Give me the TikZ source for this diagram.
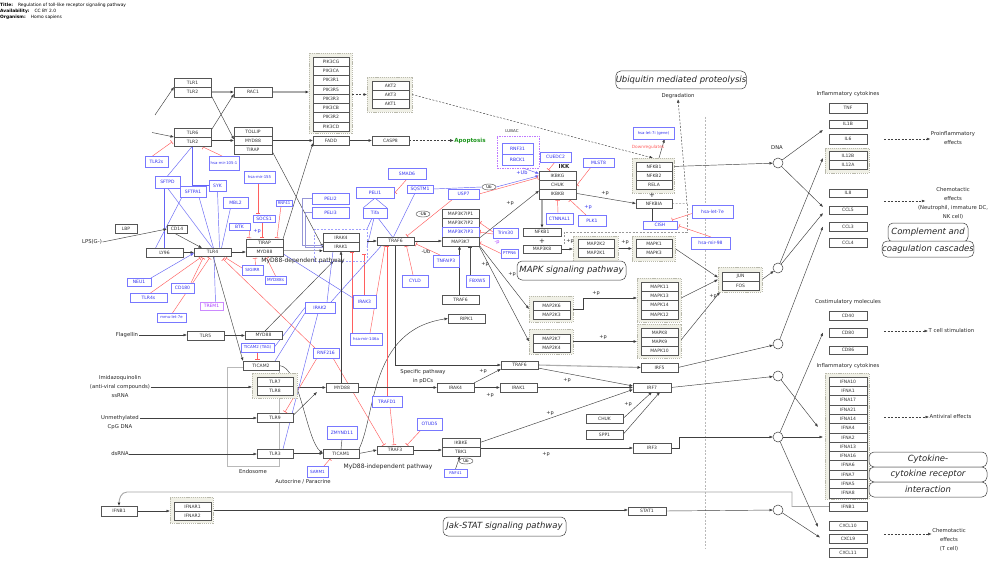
\documentclass[tikz,border=0pt]{standalone}
\usepackage{fontspec}
\setmainfont{DejaVu Sans}
\usetikzlibrary{arrows.meta,calc,shapes.geometric}
\pgfdeclarelayer{back}
\pgfdeclarelayer{lines}
\pgfsetlayers{back,lines,main}

\definecolor{gbord}{RGB}{85,85,85}
\definecolor{bbord}{RGB}{120,120,255}
\definecolor{btext}{RGB}{50,50,240}
\definecolor{bline}{RGB}{100,100,245}
\definecolor{gline}{RGB}{150,150,215}
\definecolor{inhc}{RGB}{255,95,95}
\definecolor{grpfill}{RGB}{240,240,230}
\definecolor{grpbord}{RGB}{185,185,172}
\definecolor{apo}{RGB}{30,150,30}
\definecolor{lubacc}{RGB}{190,120,255}
\definecolor{purp}{RGB}{170,60,255}

\newcommand\fsz[1]{\fontsize{#1}{#1}\selectfont}
% box from corner (x1,y1) to (x2,y2): style, name, x1, y1, x2, y2, text
\newcommand\mkbox[7]{\node[#1,minimum width={(#5)-(#3)},minimum height={((#6)-(#4))}] (#2) at ({((#3)+(#5))/2},{((#4)+(#6))/2}) {#7};}
% stacked rows: style, prefix, x1, y0, x2, row height, labels
\newcommand\mkrows[7]{\foreach \lab [count=\i] in {#7}{\mkbox{#1}{#2\i}{#3}{(#4)+(\i-1)*(#6)}{#5}{(#4)+\i*(#6)}{\lab}}}

\tikzset{
 gene/.style={draw=gbord,line width=0.45pt,fill=white,inner sep=0pt,outer sep=0pt,font=\fsz{4.5},text=black!80},
 bgene/.style={gene,draw=bbord,text=btext},
 grp/.style={draw=grpbord,line width=0.4pt,dash pattern=on 1.2pt off 0.9pt,fill=grpfill,inner sep=0pt,outer sep=0pt},
 irakg/.style={draw=bbord!70,line width=0.45pt,dash pattern=on 2pt off 1.5pt,inner sep=0pt,outer sep=0pt},
 lubacg/.style={draw=lubacc,line width=0.6pt,dash pattern=on 1.5pt off 1pt,inner sep=0pt,outer sep=0pt},
 endo/.style={draw=gray!55,line width=0.5pt,inner sep=0pt,outer sep=0pt},
 pwy/.style={draw=black!75,line width=0.5pt,rounded corners=5pt,fill=white,inner sep=0pt,outer sep=0pt,font=\fsz{8.5}\itshape,text=black!85},
 lbl/.style={inner sep=0.5pt,font=\fsz{5.3},text=black!85},
 lbl2/.style={inner sep=0.5pt,align=center,font=\fontsize{5.3}{9}\selectfont,text=black!85},
 plab/.style={inner sep=0pt,font=\fsz{5},text=black!85},
 act/.style={draw=black!75,line width=0.45pt,-{Latex[length=3.5pt,width=2.8pt]}},
 gact/.style={draw=gray!65,line width=1.1pt,-{Latex[length=3.5pt,width=3pt,color=black!80]}},
 fbk/.style={draw=gray!70,line width=0.9pt,-{Latex[length=3.5pt,width=3pt,color=black!80]}},
 dact/.style={act,dash pattern=on 2pt off 1.5pt},
 dsh/.style={draw=gray!80,line width=0.45pt,dash pattern=on 2pt off 1.5pt},
 inh/.style={draw=inhc,line width=0.45pt,-{Bar[width=4.5pt,line width=0.6pt]}},
 inhk/.style={draw=black!70,line width=0.6pt,-{Bar[width=4.5pt,line width=0.6pt]}},
 kline/.style={draw=black!75,line width=0.45pt},
 blu/.style={draw=bline,line width=0.45pt},
 bact/.style={blu,-{Latex[length=3.5pt,width=2.8pt]}},
 gblu/.style={draw=gline,line width=0.5pt},
 dna/.style={circle,draw=black!75,line width=0.5pt,fill=white,minimum size=10pt,inner sep=0pt,outer sep=0pt},
 ubo/.style={ellipse,draw=black!75,line width=0.4pt,fill=white,inner sep=0.3pt,minimum width=14pt,minimum height=6pt,font=\fsz{4}},
}

\begin{document}
\begin{tikzpicture}[x=1pt,y=-1pt]
\useasboundingbox (0,0) rectangle (1000,564);

% ---------- background: page, endosome and nuclear boundary ----------
\begin{pgfonlayer}{back}
\fill[white] (0,0) rectangle (1000,564);
\mkbox{endo}{endo}{227}{367}{279}{466}{}
\draw[dsh,draw=gray!55] (705,117) -- (705,548);
\end{pgfonlayer}

% ---------- header ----------
\node[anchor=west,inner sep=0pt,font=\fsz{4.4}] (hd1) at (0,5) {\textbf{Title:}\hspace{5pt}Regulation of toll-like receptor signaling pathway};
\node[anchor=west,inner sep=0pt,font=\fsz{4.4}] (hd2) at (0,11) {\textbf{Availability:}\hspace{5pt}CC BY 2.0};
\node[anchor=west,inner sep=0pt,font=\fsz{4.4}] (hd3) at (0,17) {\textbf{Organism:}\hspace{5pt}Homo sapiens};

% ---------- complexes (outer frames) ----------
\mkbox{grp}{pik3grp}{309}{53}{352}{133}{}
\mkbox{grp}{aktgrp}{367}{77}{412}{112}{}
\mkbox{grp}{nfkbgrp}{632}{158}{674}{193}{}
\mkbox{grp}{map2kgrp}{573}{236}{618}{261}{}
\mkbox{grp}{mapk1grp}{632}{236}{675}{261}{}
\mkbox{grp}{junfosgrp}{718}{267}{762}{292}{}
\mkbox{grp}{map2k6grp}{529}{296}{573}{322}{}
\mkbox{grp}{mapk11grp}{637}{278}{681}{322}{}
\mkbox{grp}{map2k7grp}{529}{329}{573}{354}{}
\mkbox{grp}{mapk8grp}{637}{324}{681}{358}{}
\mkbox{grp}{tlr78grp}{252}{373}{297}{398}{}
\mkbox{grp}{ifnargrp}{170}{497}{213}{523}{}
\mkbox{grp}{il12grp}{825}{148}{869}{173}{}
\mkbox{grp}{ifnagrp}{825}{373}{869}{499}{}
\mkbox{irakg}{irakgrp}{314}{229}{367}{261}{}
\mkbox{lubacg}{lubac}{497}{136}{539}{168}{}

% ---------- receptors, top left ----------
\mkbox{gene}{tlrA1}{174}{78}{211}{87}{TLR1}
\mkbox{gene}{tlrA2}{174}{87}{211}{97}{TLR2}
\mkbox{gene}{tlrB6}{174}{128}{211}{137}{TLR6}
\mkbox{gene}{tlrB2}{174}{137}{211}{146}{TLR2}
\mkbox{gene}{rac1}{234}{87}{272}{97}{RAC1}
\mkbox{gene}{tollip}{234}{127}{272}{136}{TOLLIP}
\mkbox{gene}{myd88a}{234}{136}{272}{145}{MYD88}
\mkbox{gene}{tirapa}{234}{145}{272}{154}{TIRAP}
\mkrows{gene}{pik}{313}{57}{349}{9.25}{PIK3CG,PIK3CA,PIK3R1,PIK3R5,PIK3R3,PIK3CB,PIK3R2,PIK3CD}
\mkrows{gene}{akt}{372}{81}{409}{9}{AKT2,AKT3,AKT1}
\mkbox{gene}{fadd}{313}{136}{349}{145}{FADD}
\mkbox{gene}{casp8}{372}{136}{409}{145}{CASP8}
\node[font=\fsz{5.6}\bfseries,text=apo,inner sep=0.5pt] (apop) at (470,140.5) {Apoptosis};

\mkbox{bgene}{tlr2s}{145}{156}{168}{167}{TLR2s}
\mkbox{bgene,font=\fsz{3.8}}{mir105}{209}{156}{239}{170}{hsa-mir-105-1}
\mkbox{bgene}{sftpd}{155}{176}{180}{188}{SFTPD}
\mkbox{bgene}{sftpa1}{180}{186}{206}{197}{SFTPA1}
\mkbox{bgene}{syk}{209}{180}{226}{191}{SYK}
\mkbox{bgene,font=\fsz{3.9}}{mir155}{244}{171}{275}{183}{hsa-mir-155}
\mkbox{bgene}{mbl2}{223}{197}{248}{208}{MBL2}
\mkbox{bgene}{btk}{229}{223}{250}{230}{BTK}
\mkbox{bgene}{socs1}{253}{215}{275}{222}{SOCS1}
\mkbox{bgene,font=\fsz{3.8}}{rnf41a}{276}{200}{292}{206}{RNF41}
\mkbox{gene}{lbp}{115}{224}{137}{233}{LBP}
\mkbox{gene}{cd14}{167}{225}{187}{233}{CD14}
\mkbox{gene}{ly96}{146}{248}{183}{257}{LY96}
\mkbox{gene}{tlr4}{194}{248}{231}{256}{TLR4}
\mkbox{gene}{tirapb}{246}{239}{283}{247.5}{TIRAP}
\mkbox{gene}{myd88b}{246}{247.5}{283}{256}{MYD88}
\mkbox{bgene}{neu1}{127}{278}{151}{286}{NEU1}
\mkbox{bgene}{cd180}{171}{283}{194}{293}{CD180}
\mkbox{bgene}{tlr4s}{130}{293}{167}{302}{TLR4s}
\mkbox{bgene,draw=purp!60,text=purp}{trem1}{200}{302}{223}{310}{TREM1}
\mkbox{bgene,font=\fsz{3.8}}{mmulet}{157}{313}{186}{322}{mmu-let-7e}
\mkbox{bgene,font=\fsz{4.2}}{sigirr}{242}{265}{263}{275}{SIGIRR}
\mkbox{bgene,font=\fsz{4.2}}{myd88s}{265}{276}{286}{284}{MYD88s}
\mkbox{gene}{tlr5}{187}{331}{224}{340}{TLR5}
\mkbox{gene}{myd88c}{245}{331}{282}{339}{MYD88}
\mkbox{bgene,font=\fsz{4}}{ticam2tag}{241}{343}{274}{352}{TICAM2 (TAG)}
\mkbox{gene}{ticam2}{243}{361}{279}{370}{TICAM2}

\node[lbl] (lps) at (92,242) {LPS(G-)};
\node[lbl] (flag) at (127,335) {Flagellin};
\node[lbl2] (imid) at (120,387) {Imidazoquinolin\\(anti-viral compounds)\\ssRNA};
\node[lbl2] (unm) at (120,422.5) {Unmethylated\\CpG DNA};
\node[lbl] (dsrna) at (120,454) {dsRNA};
\node[lbl] (endot) at (253,472) {Endosome};
\node[lbl] (autop) at (303,482) {Autocrine / Paracrine};
\node[lbl,font=\fsz{6}] (mdp) at (303,261) {MyD88-dependent pathway};
\node[lbl,font=\fsz{6}] (mip) at (388,467) {MyD88-independent pathway};
\node[lbl2] (spp) at (423,376.5) {Specific pathway\\in pDCs};

% ---------- IRAK / TRAF6 module ----------
\mkbox{bgene}{peli2}{312}{193}{349}{204}{PELI2}
\mkbox{bgene}{peli3}{312}{207}{349}{218}{PELI3}
\mkbox{bgene}{peli1}{356}{187}{394}{198}{PELI1}
\mkbox{bgene}{tifa}{363}{208}{387}{218}{Tifa}
\mkbox{bgene}{smad6}{388}{168}{426}{179}{SMAD6}
\mkbox{bgene}{sqstm1}{407}{185}{433}{193}{SQSTM1}
\mkbox{bgene}{usp7}{448}{189}{479}{199}{USP7}
\mkbox{gene}{irak4}{323}{233}{359}{242}{IRAK4}
\mkbox{gene}{irak1}{323}{242}{359}{251}{IRAK1}
\mkbox{gene}{traf6a}{377}{237}{414}{245}{TRAF6}
\mkbox{gene}{m3a}{442}{209}{479}{218.25}{MAP3K7IP1}
\mkbox{gene}{m3b}{442}{218.25}{479}{227.5}{MAP3K7IP2}
\mkbox{bgene}{m3c}{442}{227.5}{479}{236.75}{MAP3K7IP3}
\mkbox{gene}{m3d}{442}{236.75}{479}{246}{MAP3K7}
\mkbox{bgene}{tnfaip3}{433}{255}{459}{267}{TNFAIP3}
\mkbox{bgene}{cyld}{402}{275}{428}{287}{CYLD}
\mkbox{bgene}{fbxw5}{466}{275}{489}{287}{FBXW5}
\mkbox{gene}{traf6b}{442}{295}{479}{304}{TRAF6}
\mkbox{gene}{ripk1}{448}{314}{485}{323}{RIPK1}
\mkbox{bgene}{irak3}{353}{295}{376}{308}{IRAK3}
\mkbox{bgene}{irak2}{305}{302}{335}{313}{IRAK2}
\mkbox{bgene,font=\fsz{3.9}}{mir146a}{350}{333}{382}{345}{hsa-mir-146a}
\mkbox{bgene}{rnf216}{313}{348}{339}{358}{RNF216}
\node[ubo] (ub1) at (489,187) {Ub};
\node[ubo] (ub2) at (423,214) {-Ub};

% ---------- IKK / NF-kB module ----------
\node[inner sep=0pt,font=\fsz{4},text=black!80] (lubact) at (512,131) {LUBAC};
\mkbox{bgene}{rnf31}{502}{143}{533}{154}{RNF31}
\mkbox{bgene}{rbck1}{502}{154}{533}{165}{RBCK1}
\mkbox{bgene}{cuedc2}{540}{152}{571}{162}{CUEDC2}
\mkbox{bgene}{mlst8}{583}{158}{614}{167}{MLST8}
\node[inner sep=0pt,font=\fsz{5.5}\bfseries,text=black!85] (ikkt) at (564,166) {IKK};
\mkbox{gene}{ikbkg}{539}{171}{576}{180.33}{IKBKG}
\mkbox{gene}{chuk}{539}{180.33}{576}{189.67}{CHUK}
\mkbox{gene}{ikbkb}{539}{189.67}{576}{199}{IKBKB}
\mkbox{bgene}{trim30}{493}{228}{518}{238}{Trim30}
\mkbox{bgene,font=\fsz{4}}{ptpn6}{501}{249}{518}{258}{PTPN6}
\mkbox{bgene}{ctnnal1}{546}{213}{573}{224}{CTNNAL1}
\mkbox{bgene}{plk1}{578}{215}{606}{226}{PLK1}
\mkbox{gene}{nfkb1b}{523}{228}{561}{236}{NFKB1}
\mkbox{gene}{map3k8}{523}{245}{561}{253}{MAP3K8}
\mkbox{gene}{map2k2}{578}{239}{614}{248}{MAP2K2}
\mkbox{gene}{map2k1}{578}{248}{614}{257}{MAP2K1}
\mkbox{gene}{mapk1}{636}{239}{672}{248}{MAPK1}
\mkbox{gene}{mapk3}{636}{248}{672}{257}{MAPK3}
\mkbox{pwy}{mapkpw}{517}{261}{626}{280}{MAPK signaling pathway}
\mkbox{gene}{nfkb1}{636}{162}{672}{171}{NFKB1}
\mkbox{gene}{nfkb2}{636}{171}{672}{180}{NFKB2}
\mkbox{gene}{rela}{636}{180}{672}{189}{RELA}
\mkbox{bgene,font=\fsz{3.8}}{let7i}{633}{127}{674}{139}{hsa-let-7i (gene)}
\node[inner sep=0pt,font=\fsz{4.3},text=inhc] (downr) at (648,147) {Downregulates};
\mkbox{gene}{nfkbia}{636}{199}{672}{208}{NFKBIA}
\mkbox{bgene}{cish}{643}{221}{677}{229}{CISH}
\mkbox{bgene}{let7e}{692}{205}{733}{218}{hsa-let-7e}
\mkbox{bgene}{mir98}{691}{237}{730}{249}{hsa-mir-98}
\mkbox{pwy}{ubqpw}{616}{71}{746}{89}{Ubiquitin mediated proteolysis}
\node[lbl] (degr) at (678,96) {Degradation};

% ---------- MAPK cascades ----------
\mkbox{gene}{jun}{722}{272}{759}{281}{JUN}
\mkbox{gene}{fos}{722}{281}{759}{290}{FOS}
\mkbox{gene}{map2k6}{533}{301}{570}{310}{MAP2K6}
\mkbox{gene}{map2k3}{533}{310}{570}{319}{MAP2K3}
\mkrows{gene}{mkb}{641}{282}{678}{9.25}{MAPK11,MAPK13,MAPK14,MAPK12}
\mkbox{gene}{map2k7}{533}{334}{570}{343}{MAP2K7}
\mkbox{gene}{map2k4}{533}{343}{570}{352}{MAP2K4}
\mkrows{gene}{mkc}{641}{328}{678}{9}{MAPK8,MAPK9,MAPK10}
\mkbox{gene}{traf6c}{501}{361}{538}{369}{TRAF6}
\mkbox{gene}{irf5}{641}{363}{678}{372}{IRF5}

% ---------- endosomal TLRs and MyD88-independent branch ----------
\mkbox{gene}{tlr7}{257}{377}{293}{386}{TLR7}
\mkbox{gene}{tlr8}{257}{386}{293}{395}{TLR8}
\mkbox{gene}{tlr9}{257}{413}{293}{422}{TLR9}
\mkbox{gene}{tlr3}{257}{449}{293}{458}{TLR3}
\mkbox{gene}{myd88d}{326}{383}{358}{392}{MYD88}
\mkbox{gene}{ticam1}{323}{449}{359}{458}{TICAM1}
\mkbox{bgene}{zmynd11}{327}{426}{357}{439}{ZMYND11}
\mkbox{bgene,font=\fsz{4.2}}{sarm1}{307}{466}{328}{477}{SARM1}
\mkbox{gene}{traf3}{377}{446}{413}{454}{TRAF3}
\mkbox{bgene}{trafd1}{372}{396}{402}{407}{TRAFD1}
\mkbox{bgene}{otud5}{417}{418}{442}{430}{OTUD5}
\mkbox{gene}{ikbke}{442}{438}{480}{447}{IKBKE}
\mkbox{gene}{tbk1}{442}{447}{480}{456}{TBK1}
\node[ubo] (ub3) at (466,461) {Ub};
\mkbox{bgene,font=\fsz{3.8}}{rnf41b}{444}{469}{467}{477}{RNF41}
\mkbox{gene}{irak4b}{437}{383}{474}{392}{IRAK4}
\mkbox{gene}{irak1b}{500}{383}{537}{392}{IRAK1}
\mkbox{gene}{irf7}{633}{383}{671}{392}{IRF7}
\mkbox{gene}{chukb}{586}{414}{623}{423}{CHUK}
\mkbox{gene}{spp1}{586}{430}{623}{439}{SPP1}
\mkbox{gene}{irf3}{633}{443}{671}{453}{IRF3}
\mkbox{gene}{stat1}{628}{507}{666}{515}{STAT1}
\mkbox{gene}{ifnb1a}{101}{506}{137}{516}{IFNB1}
\mkbox{gene}{ifnar1}{174}{502}{211}{511}{IFNAR1}
\mkbox{gene}{ifnar2}{174}{511}{211}{520}{IFNAR2}
\mkbox{pwy}{jakpw}{443}{517}{566}{536}{Jak-STAT signaling pathway}

% ---------- nucleus and products ----------
\node[lbl] (dnat) at (777,148) {DNA};
\node[dna] (dna1) at (778,163) {};
\node[dna] (c3) at (778,268) {};
\node[dna] (c2) at (778,344) {};
\node[dna] (c4) at (778,376) {};
\node[dna] (c5) at (778,437) {};
\node[dna] (c6) at (778,510) {};
\node[lbl] (infl1) at (848,94) {Inflammatory cytokines};
\mkbox{gene}{tnf}{829}{103}{867}{113}{TNF}
\mkbox{gene}{il1b}{829}{120}{867}{128}{IL1B}
\mkbox{gene}{il6}{829}{134}{867}{144}{IL6}
\mkbox{gene}{il12b}{829}{151}{867}{160}{IL12B}
\mkbox{gene}{il12a}{829}{160}{867}{169}{IL12A}
\mkbox{gene}{il8}{829}{189}{867}{197}{IL8}
\mkbox{gene}{ccl5}{829}{206}{867}{214}{CCL5}
\mkbox{gene}{ccl3}{829}{222}{867}{231}{CCL3}
\mkbox{gene}{ccl4}{829}{238}{867}{247}{CCL4}
\node[lbl] (costim) at (848,302) {Costimulatory molecules};
\mkbox{gene}{cd40}{829}{311}{867}{320}{CD40}
\mkbox{gene}{cd80}{829}{328}{867}{337}{CD80}
\mkbox{gene}{cd86}{829}{346}{867}{354}{CD86}
\node[lbl] (infl2) at (848,366) {Inflammatory cytokines};
\mkrows{gene}{ifna}{829}{377}{867}{9.3}{IFNA10,IFNA1,IFNA17,IFNA21,IFNA14,IFNA4,IFNA2,IFNA13,IFNA16,IFNA6,IFNA7,IFNA5,IFNA8}
\mkbox{gene}{ifnb1b}{829}{502}{867}{511}{IFNB1}
\mkbox{gene}{cxcl10}{829}{521}{867}{530}{CXCL10}
\mkbox{gene}{cxcl9}{829}{534}{867}{543}{CXCL9}
\mkbox{gene}{cxcl11}{829}{548}{867}{557}{CXCL11}

\node[lbl2] (proinf) at (953,138.5) {Proinflammatory\\effects};
\node[lbl2] (chemo1) at (953,203.5) {Chemotactic\\effects\\(Neutrophil, immature DC,\\NK cell)};
\node[lbl,anchor=west] (tcs) at (928,331) {T cell stimulation};
\node[lbl,anchor=west] (antiv) at (929,417) {Antiviral effects};
\node[lbl2] (chemo2) at (949,539.5) {Chemotactic\\effects\\(T cell)};
\mkbox{pwy}{cc1}{888}{223}{968}{242}{Complement and}
\mkbox{pwy}{cc2}{883}{241}{973}{257}{coagulation cascades}
\mkbox{pwy}{ck1}{869}{452}{987}{467}{Cytokine-}
\mkbox{pwy}{ck2}{869}{467}{987}{482}{cytokine receptor}
\mkbox{pwy}{ck3}{869}{482}{987}{497}{interaction}

% ---------- edge labels ----------
\node[plab,text=btext] (pl1) at (257,231) {+p};
\node[plab] (pl2) at (510,203) {+p};
\node[plab] (pl3) at (512,274) {+p};
\node[plab] (pl4) at (485,264) {+p};
\node[plab] (pl5) at (605,193) {+p};
\node[plab,text=btext] (pl6) at (588,207) {+p};
\node[plab] (pl7) at (570,241) {+p};
\node[plab] (pl8) at (625,242) {+p};
\node[plab] (pl9) at (596,293) {+p};
\node[plab] (pl10) at (603,337) {+p};
\node[plab] (pl11) at (713,296) {+p};
\node[plab] (pl12) at (490,395) {+p};
\node[plab] (pl13) at (483,371) {+p};
\node[plab] (pl14) at (567,380) {+p};
\node[plab] (pl15) at (628,404) {+p};
\node[plab] (pl16) at (550,413) {+p};
\node[plab] (pl17) at (546,454) {+p};
\node[plab,text=purp] (pl18) at (497,243) {-p};
\node[plab,text=btext] (pl19) at (522,173) {+Ub};
\node[plab] (pl20) at (426,252) {-Ub};
\node[plab,font=\fsz{7}] (plus1) at (542,241) {+};
\node[plab,font=\fsz{7}] (plus2) at (652,195) {+};

% ---------- free ends of ligand and effect arrows ----------
\coordinate (lgA) at (155,115);
\coordinate (lgB) at (152,132.5);
\coordinate (e1) at (884,139);
\coordinate (e2) at (884,201);
\coordinate (e3) at (884,331);
\coordinate (e4) at (884,417);
\coordinate (e5) at (884,534);

% ================= connectors =================
\begin{pgfonlayer}{lines}
% TLR2 heterodimers
\draw[act] (lgA) -- (tlrA1.south west);
\draw[act] (lgB) -- (tlrB6.south west);
\draw[gact] (tlrA2.east) -- (tlrA2.east -| rac1.west);
\draw[act] ($(tlrA2.east)+(0,3)$) -- ($(myd88a.west)+(0,-1)$);
\draw[act] ($(tlrB6.east)+(0,-2)$) -- ($(rac1.west)+(0,2)$);
\draw[act] ($(tlrB2.east)+(0,-1)$) -- (myd88a.west);
\draw[gact] (rac1.east) -- (rac1.east -| pik3grp.west);
\draw[dact] (pik3grp.east |- aktgrp.west) -- (aktgrp.west);
\draw[dact] (aktgrp.east) -- (nfkbgrp.north);
\draw[act] (myd88a.east) -- (fadd.west);
\draw[act] (fadd.east) -- (casp8.west);
\draw[dact] (casp8.east) -- (apop.west);
\draw[act] ($(tirapa.east)+(0,1.5)$) -- ($(irak1.west)+(0,1)$);
\draw[act] (tirapb.north east) -- ($(fadd.south west)+(0,-2)$);

% TLR2 modulators
\draw[inh] ($(tlr2s.north)+(-4,0)$) -- ($(tlrB2.south west)+(-2,-4)$);
\draw[inh] ($(mir105.north)+(-2,0)$) -- ($(tlrB2.south east)+(-8,1)$);
\draw[blu] (tlrB2.south) -- (sftpd.north);
\draw[blu] (tlrB2.south) -- (tlrB2.south |- syk.west) -- (syk.west);
\draw[blu] ($(sftpd.south)+(-3,0)$) -- (ly96.north);
\draw[blu] (sftpd.south) -- (tlr4.north);
\draw[blu] ($(sftpa1.south)+(-11,0)$) -- ($(ly96.north)+(-9,0)$);
\draw[blu] ($(sftpa1.south)+(6,0)$) -- ($(tlr4.north)+(1,0)$);
\draw[blu] (syk.south) -- ($(tlr4.north)+(7,0)$);
\draw[blu] ($(mbl2.south)+(-5,0)$) -- ($(tlr4.north)+(9,0)$);

% LPS / TLR4
\draw[act] (lps.east) -- (cd14.west);
\draw[act] ($(cd14.south)+(-3,0)$) -- ($(tlr4.north west)+(8,0)$);
\draw[act] (ly96.east) -- (ly96.east -| tlr4.west);
\draw[act] (tlr4.east) -- (tlr4.east -| tirapb.west);
\draw[act] ($(tlr4.south)+(0.5,0)$) -- (ticam2.north west);
\draw[bact] (neu1.north east) -- ($(tlr4.south west)+(0,-3)$);
\draw[inh] ($(tlr4s.north)+(2,0)$) -- ($(tlr4.south west)+(6,2)$);
\draw[inh] ($(cd180.north east)+(-3,0)$) -- ($(tlr4.south west)+(9,2)$);
\draw[inh] ($(mmulet.north)+(1,0)$) -- ($(tlr4.south)+(-3,2)$);
\draw[blu] ($(trem1.north)+(4,0)$) -- ($(tlr4.south)+(1.5,0)$);
\draw[inh] ($(sigirr.west)+(0,-2)$) -- ($(tlr4.south east)+(-5,2)$);
\draw[inh] ($(sigirr.north)+(3,0)$) -- ($(myd88b.south west)+(9,2)$);
\draw[inh] (myd88s.north) -- ($(myd88b.south)+(2,2)$);
\draw[inh] ($(rnf216.north west)+(2,0)$) -- ($(tlr4.south east)+(-8,3)$);
\draw[inh] ($(mir155.south)+(-1.5,0)$) -- ($(socs1.north)+(-6,-1)$);
\draw[inh] ($(socs1.south)+(-2,0)$) -- ($(tirapb.north)+(-2.5,-1)$);
\draw[inh] ($(rnf41a.south)+(-3,0)$) -- ($(tirapb.north east)+(-6,-1)$);
\draw[inh] (btk.east) -- ($(tirapb.north west)+(3,-1)$);

% TLR5, TICAM2
\draw[act] (flag.east) -- (flag.east -| tlr5.west);
\draw[act] (tlr5.east) -- (tlr5.east -| myd88c.west);
\draw[act] ($(myd88c.north west)+(20,0)$) -- ($(irakgrp.south)+(-7,0)$);
\draw[inh] (ticam2tag.south) -- ($(ticam2.north)+(-3.5,-1)$);

% IRAK complex and TRAF6
\coordinate (m2e) at ($(myd88b.east)+(0,-1)$);
\draw[gact] (m2e) -- (m2e -| irak1.west);
\draw[gblu] (peli2.west) -- ++(-10,0) |- ($(irak1.west)+(0,-1)$);
\draw[gblu] (peli3.west) -- ++(-7,0) |- ($(irak1.west)+(0,1)$);
\draw[blu] (peli1.south) -- (tifa.north west);
\draw[blu] (peli1.south) -- (tifa.north east);
\draw[blu] ($(tifa.south)+(-3,0)$) -- (irakgrp.north east);
\draw[blu] ($(tifa.south)+(-1,0)$) -- ($(irakgrp.east)+(0,2)$);
\draw[blu] ($(tifa.south)+(3,0)$) -- ($(traf6a.north)+(-3,0)$);
\draw[inh] (smad6.south) -- ($(peli1.east)+(1,0)$);
\draw[blu] ($(sqstm1.south)+(-5,0)$) -- ($(traf6a.north)+(-2,0)$);
\draw[blu] (sqstm1.east) -- (ub1.west);
\draw[bact] (ub1.east) -- (ikbkg.west);
\draw[inh] ($(usp7.south west)+(5,0)$) -- ($(traf6a.north east)+(-7,-1)$);
\draw[inh] (usp7.east) -- ($(ikbkg.west)+(-1,2)$);
\draw[act] (irakgrp.east |- traf6a.west) -- (traf6a.west);
\draw[act] (traf6a.east) -- (traf6a.east -| m3d.west);
\draw[inh] ($(tnfaip3.north west)+(7,0)$) -- ($(traf6a.south east)+(2,-1)$);
\draw[inh] ($(cyld.north)+(-2,0)$) -- ($(traf6a.south)+(11,1)$);
\coordinate (fb) at ($(fbxw5.north west)+(4,0)$);
\coordinate (fb2) at (fb |- m3d.south);
\draw[inhk] (fb) -- ($(fb2)+(0,1)$);
\draw[act] ($(traf6b.north)+(-1,0)$) -- ($(m3d.south)+(-1,0)$);
\draw[inh] ($(trim30.west)+(0,-1)$) -- ($(m3b.east)+(1,0)$);
\draw[inh] ($(trim30.west)+(0,1)$) -- ($(m3c.east)+(1,0)$);
\draw[inh] (ptpn6.west) -- ($(m3d.east)+(1,2)$);
\draw[act] ($(m3d.east)+(0,-3)$) -- ($(ikbkb.north west)+(0,1)$);
\draw[act] ($(m3d.south east)+(0,-1)$) -- (map2k6grp.west);
\draw[act] (m3d.south east) -- (map2k7grp.west);

% IKK and NF-kB
\draw[bact] ($(lubac.south)+(5,0)$) -- ($(ikbkg.west)+(0,-2)$);
\draw[inh] ($(cuedc2.south)+(-0.5,0)$) -- ($(ikbkg.north)+(-9,-1)$);
\draw[inh] ($(mlst8.south west)+(8,0)$) -- ($(chuk.east)+(1,0)$);
\draw[inh] ($(ctnnal1.north)+(-1.5,0)$) -- ($(ikbkb.south)+(0,1)$);
\draw[inh] ($(plk1.north west)+(8,0)$) -- ($(ikbkb.south east)+(-6,1)$);
\draw[gact] (ikbkb.south -| nfkb1b.north) -- (nfkb1b.north);
\draw[act] ($(ikbkb.east)+(0,-1)$) -- (nfkbia.west);
\draw[act] (map3k8.east) -- (map3k8.east -| map2kgrp.west);
\draw[act] (map2kgrp.east) -- (mapk1grp.west);
\draw[act] ($(nfkbgrp.north)+(6,0)$) -- ($(let7i.south)+(11,0)$);
\draw[act] (nfkb1.east) -- (dna1);
\draw[kline] ($(nfkbia.south)+(-2,0)$) -- ($(cish.north)+(-8,0)$);
\draw[inh] ($(let7e.west)+(0,2)$) -- ($(cish.north east)+(-5,-1)$);
\draw[inh] ($(mir98.north west)+(20,0)$) -- ($(cish.east)+(2,1)$);
\draw[dact] (nfkbia.east) -- ($(nfkbia.east)+(15,0)$) -- (degr.south);
\draw[dsh] ($(nfkb1b.south east)+(3,8)$) -- ($(nfkb1b.north east)+(3,4)$) -- ($(nfkbia.east)+(15,28.5)$) -- ($(nfkbia.east)+(15,0)$);

% MAPK cascades
\draw[act] (map2k6grp.east) -- ++(10,0) |- ($(mapk11grp.west)+(0,-2)$);
\draw[act] (map2k7grp.east) -- (map2k7grp.east -| mapk8grp.west);
\draw[act] (mapk1grp.east) -- ($(junfosgrp.west)+(0,-2)$);
\draw[act] ($(mapk11grp.east)+(0,-2)$) -- (junfosgrp.west);
\draw[act] ($(mapk8grp.east)+(0,-1)$) -- ($(junfosgrp.south west)+(2,0)$);
\draw[act] (junfosgrp.east) -- (c3);
\draw[act] (traf6a.south) -- (traf6a.south |- traf6c.west) -- (traf6c.west);
\draw[act] (irak4b.north east) -- (traf6c.south west);
\draw[gact] (traf6c.east) -- (irf5.west);
\draw[act] ($(traf6c.south east)+(0,-1)$) -- ($(irf7.north west)+(0,3)$);
\draw[act] (irf5.east) -- (c2);

% endosomal TLRs
\draw[act] (imid.east) -- (imid.east -| tlr78grp.west);
\coordinate (unmE) at ($(unm.east)+(0,-4.5)$);
\draw[act] (unmE) -- (unmE -| tlr9.west);
\draw[act] (dsrna.east) -- (dsrna.east -| tlr3.west);
\draw[act] (tlr78grp.east |- myd88d.west) -- (myd88d.west);
\draw[act] ($(tlr9.east)+(0,-2)$) -- ($(myd88d.south west)+(-9,0)$);
\draw[act] (tlr3.east) -- (tlr3.east -| ticam1.west);
\draw[act] (ticam2.east) .. controls (300,366) and (306,440) .. (ticam1.west);
\draw[act] (ticam1.north east) .. controls (376,415) and (369,330) .. (ripk1.west);
\draw[act] (ticam1.east) -- (traf3.west);
\draw[kline] (zmynd11.south) -- (ticam1.north);
\draw[inh] ($(sarm1.north east)+(-4,0)$) -- ($(ticam1.south west)+(7,1)$);
\coordinate (td) at (trafd1.north |- traf6a.south);
\draw[inh] (trafd1.north) -- ($(td)+(0,1)$);
\draw[inh] ($(trafd1.south)+(3,0)$) -- ($(traf3.north)+(-1,-1)$);
\draw[inh] ($(otud5.south west)+(4,0)$) -- ($(traf3.north east)+(-6,-1)$);
\draw[inh] ($(rnf216.south west)+(4,0)$) -- ($(tlr9.north)+(10,-1)$);
\draw[inh] ($(rnf216.south east)+(-6,0)$) -- ($(traf3.north west)+(7,-1)$);
\draw[inh] ($(mir146a.north west)+(2,0)$) -- ($(irak1.south)+(11,1)$);
\draw[inh] ($(mir146a.north)+(4,0)$) -- ($(traf6a.south west)+(8,1)$);
\draw[inh] ($(irak3.north)+(-0.5,0)$) -- ($(irak1.south east)+(5,3)$);
\draw[blu] ($(irak2.north)+(7,0)$) -- ($(irak1.south)+(-8,0)$);
\draw[blu] ($(irak2.north east)+(-4,0)$) -- ($(traf6a.south west)+(5,0)$);
\draw[blu] ($(irak2.south)+(-2,0)$) -- ($(tlr3.north east)+(-10,0)$);
\draw[blu] (ticam2tag.east) -- (irak2.west);
\draw[blu] ($(ticam2.north east)+(-4,0)$) -- (irak2.south west);
\draw[blu] ($(myd88b.east)+(0,2)$) -- ($(irak3.north west)+(0,3)$);
\draw[act] (myd88d.north -| irak1.south) -- (irak1.south);
\draw[act] (myd88d.east) -- (irak4b.west);
\draw[act] (irak4b.east) -- (irak1b.west);
\draw[act] (irak1b.east) -- (irf7.west);
\draw[act] (chukb.east) -- (irf7.south);
\draw[act] (spp1.east) -- ($(irf7.south)+(8,0)$);
\draw[act] (ikbke.east) -- ($(irf7.west)+(0,2)$);
\draw[act] (traf3.east) -- (traf3.east -| ikbke.west);
\draw[act] (tbk1.east |- irf3.west) -- (irf3.west);
\draw[act] (rnf41b.north) -- ($(tbk1.south)+(-1,0)$);
\draw[act] (irf3.east) -- ++(8,0) |- (c5.west);
\draw[act] (irf7.east) -- (c4);

% interferon loop
\draw[act] (ifnb1a.east) -- (ifnb1a.east -| ifnargrp.west);
\draw[act] (ifnargrp.east) -- (ifnargrp.east -| stat1.west);
\draw[act] (stat1.east) -- (c6);
\draw[fbk] (ifnb1b.west) -- ++(-37,0) -- ++(0,-14.5) -- ($(ifnb1a.north)+(8,-14)$) to[out=180,in=90] (ifnb1a.north);

% transcription outputs
\draw[act] (dna1) -- ($(il1b.south west)+(-6,2)$);
\draw[act] (dna1) -- ($(ccl5.west)+(-6,-3)$);
\draw[act] (c3) -- ($(il12grp.west)+(-2,-2.5)$);
\draw[act] (c3) -- ($(ccl5.west)+(-6,3)$);
\draw[act] (c2) -- ($(ccl3.west)+(-6,0)$);
\draw[act] (c5) -- ($(cd80.west)+(-6,0)$);
\draw[act] (c4) -- ($(ifnagrp.west)+(-7,-9)$);
\draw[act] (c5) -- ($(ifnagrp.west)+(-2,1)$);
\draw[act] (c5) -- ($(cxcl10.south west)+(-11,-3)$);
\draw[act] (c6) -- ($(cxcl9.west)+(-9,-1)$);

% effects
\draw[dact] (e1) -- (e1 -| proinf.west);
\coordinate (e2b) at (e2 -| chemo1.west);
\draw[dact] (e2) -- ($(e2b)+(8,0)$);
\draw[dact] (e3) -- (e3 -| tcs.west);
\draw[dact] (e4) -- (e4 -| antiv.west);
\draw[dact] (e5) -- (e5 -| chemo2.west);
\end{pgfonlayer}
\end{tikzpicture}
\end{document}
